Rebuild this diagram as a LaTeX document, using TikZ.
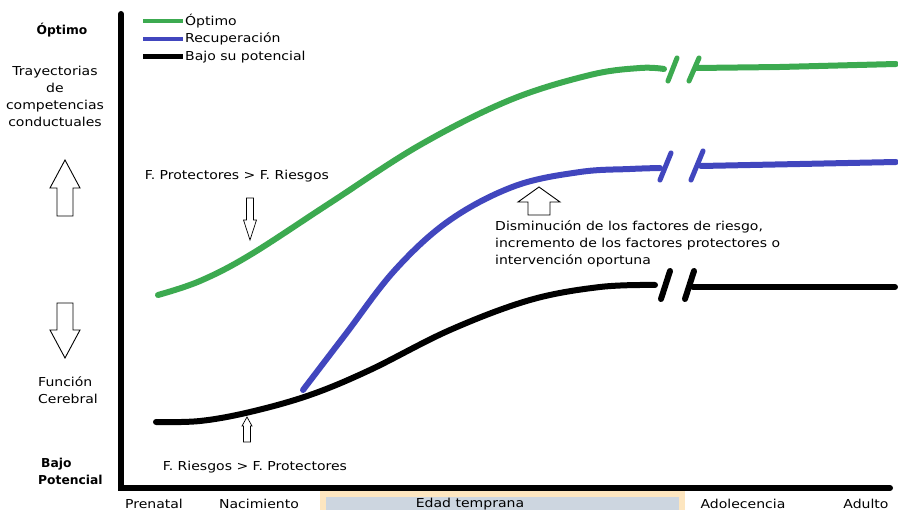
\documentclass[tikz,border=0pt]{standalone}
\usepackage{fontspec}
\setmainfont{DejaVu Sans}
\newfontfamily\regfont{DejaVu Sans}[FakeStretch=1.14]
\definecolor{gcurve}{RGB}{60,170,80}
\definecolor{bcurve}{RGB}{65,70,190}
\definecolor{boxfill}{RGB}{205,214,224}
\definecolor{boxline}{RGB}{253,230,192}
\begin{document}
\begin{tikzpicture}[x=1pt,y=-1pt,
  lbl/.style={font=\regfont\fontsize{12.3}{17}\selectfont, inner sep=0pt, align=center},
  lblb/.style={inner sep=0pt, align=center, font=\fontsize{12.3}{17}\selectfont\bfseries},
  curve/.style={line width=6pt, line cap=round, line join=round},
  slash/.style={line width=5pt, line cap=round},
  axis/.style={line width=6pt, line cap=round},
  barrow/.style={draw=black, line width=0.9pt, fill=white, line join=miter},
  leg/.style={line width=4pt}]
\useasboundingbox (0,0) rectangle (898,510);
\fill[white] (0,0) rectangle (898,510);
% Edad temprana box
\draw[draw=boxline, fill=boxfill, line width=6pt] (323,494) rectangle (682,520);
% axes
\coordinate (top) at (121,14);
\coordinate (orig) at (121,488);
\coordinate (xend) at (890,488);
\draw[axis] (top) -- (orig) -- (xend);
% axis labels
\node[lbl] (prenatal) at (154,504) {Prenatal};
\node[lbl] (nac) at (259,504) {Nacimiento};
\node[lbl] (edad) at (470,504) {Edad temprana};
\node[lbl] (adol) at (743,504) {Adolecencia};
\node[lbl] (adulto) at (866,504) {Adulto};
% left labels
\node[lblb] (opt) at (62,30) {Óptimo};
\node[lbl] (tray) at (55,96) {Trayectorias\\de\\competencias\\conductuales};
\node[lbl, align=left, anchor=west] (func) at (38,390) {Función\\Cerebral};
\node[lblb, align=left, anchor=west] (bajo) at (38,471) {\hspace{3pt}Bajo\\Potencial};
% big arrows left
\draw[barrow] (65,160) -- (80,188) -- (73,188) -- (73,216) -- (57,216) -- (57,188) -- (50,188) -- cycle;
\draw[barrow] (65,358) -- (80,330) -- (73,330) -- (73,303) -- (57,303) -- (57,330) -- (50,330) -- cycle;
% legend
\coordinate (l1a) at (143,21); \coordinate (l1b) at (183,21);
\coordinate (l2a) at (143,39); \coordinate (l2b) at (183,39);
\coordinate (l3a) at (143,57); \coordinate (l3b) at (183,57);
\draw[leg, gcurve] (l1a) -- (l1b);
\draw[leg, bcurve] (l2a) -- (l2b);
\draw[leg, black, line width=5pt] (l3a) -- (l3b);
\node[lbl, anchor=west] (t1) at (185,21) {Óptimo};
\node[lbl, anchor=west] (t2) at (185,39) {Recuperación};
\node[lbl, anchor=west] (t3) at (185,57) {Bajo su potencial};
% green curve
\draw[curve, gcurve] plot[smooth, tension=0.6] coordinates {(158,295) (200,281) (250,255) (330,203) (420,145) (510,100) (590,75) (640,68) (664,69)};
\draw[slash, gcurve] (668,81) -- (677,58);
\draw[slash, gcurve] (689,81) -- (699,58);
\draw[curve, gcurve] (696,68) -- (780,67) -- (896,64);
% blue curve
\draw[curve, bcurve] plot[smooth, tension=0.6] coordinates {(303,390) (345,335) (395,270) (450,220) (515,186) (580,172) (630,169) (660,168)};
\draw[slash, bcurve] (660,180) -- (671,153);
\draw[slash, bcurve] (691,180) -- (703,151);
\draw[curve, bcurve] (701,166) -- (800,164) -- (896,162);
% black curve
\draw[curve, black] plot[smooth, tension=0.6] coordinates {(156,422) (200,421) (250,412) (310,395) (370,370) (450,330) (530,300) (600,287) (655,285)};
\draw[slash, black, line width=6pt] (661,299) -- (670,271);
\draw[slash, black, line width=6pt] (685,299) -- (694,271);
\draw[curve, black] (693,287) -- (895,287);
% factor labels
\node[lbl] (fpr) at (237,176) {F. Protectores > F. Riesgos};
\node[lbl] (frp) at (255,467) {F. Riesgos > F. Protectores};
\node[lbl, align=left, anchor=north west] (dis) at (495,220) {Disminución de los factores de riesgo,\\incremento de los factores protectores o\\intervención oportuna};
% small arrows
\draw[barrow, line width=0.7pt] (250,240) -- (256.5,220) -- (253.5,220) -- (253.5,198) -- (246.5,198) -- (246.5,220) -- (243.5,220) -- cycle;
\draw[barrow, line width=0.7pt] (247,417) -- (252,426) -- (250.5,426) -- (250.5,442) -- (243.5,442) -- (243.5,426) -- (242,426) -- cycle;
% medium arrow
\draw[barrow] (539,187) -- (560,202) -- (550,202) -- (550,215) -- (528,215) -- (528,202) -- (518,202) -- cycle;
\end{tikzpicture}
\end{document}
